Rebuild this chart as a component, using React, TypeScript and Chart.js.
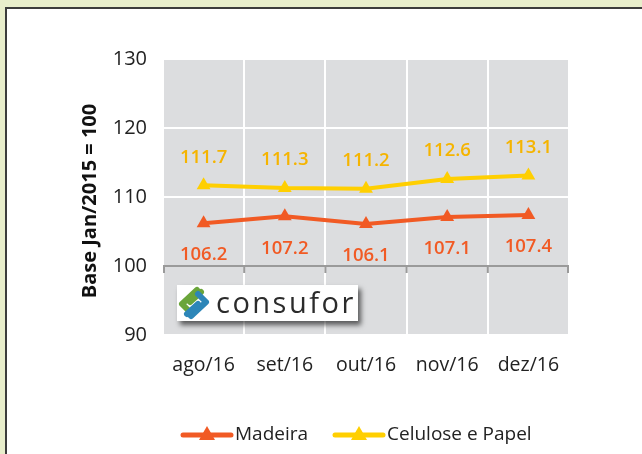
import React, { useEffect, useRef } from "react";
import { Chart, registerables } from "chart.js";

Chart.register(...registerables);

const categories = ["ago/16", "set/16", "out/16", "nov/16", "dez/16"];
const madeira = [106.2, 107.2, 106.1, 107.1, 107.4];
const celulose = [111.7, 111.3, 111.2, 112.6, 113.1];
const seriesNames = ["Madeira", "Celulose e Papel"];
const yTitle = "Base Jan/2015 = 100";
const logoText = "consufor";

const FONT = "'Open Sans', 'DejaVu Sans', sans-serif";
const ORANGE = "#f15a24";
const YELLOW = "#ffcf01";
const YELLOW_LABEL = "#f5b400";

const bgPlugin = {
  id: "bgPlugin",
  beforeDraw(chart: any) {
    const { ctx, chartArea } = chart;
    ctx.save();
    ctx.fillStyle = "#dcdddf";
    ctx.fillRect(chartArea.left, chartArea.top, chartArea.right - chartArea.left, chartArea.bottom - chartArea.top);
    ctx.restore();
  },
};

const yTitlePlugin = {
  id: "yTitlePlugin",
  afterDraw(chart: any) {
    const { ctx, chartArea } = chart;
    ctx.save();
    ctx.translate(90, (chartArea.top + chartArea.bottom) / 2 + 4);
    ctx.rotate(-Math.PI / 2);
    ctx.fillStyle = "#111";
    ctx.font = `bold 20px ${FONT}`;
    ctx.textAlign = "center";
    ctx.textBaseline = "middle";
    ctx.fillText(yTitle, 0, 0);
    ctx.restore();
  },
};

const axis100Plugin = {
  id: "axis100Plugin",
  beforeDatasetsDraw(chart: any) {
    const { ctx, chartArea, scales } = chart;
    const y = scales.y.getPixelForValue(100);
    const x = scales.x;
    ctx.save();
    ctx.strokeStyle = "#9a9a9a";
    ctx.lineWidth = 2;
    ctx.beginPath();
    ctx.moveTo(chartArea.left, y);
    ctx.lineTo(chartArea.right, y);
    const n = categories.length;
    for (let i = 0; i <= n; i++) {
      const px = i === 0 ? chartArea.left + 1 : i === n ? chartArea.right - 1 : (x.getPixelForValue(i - 1) + x.getPixelForValue(i)) / 2;
      ctx.moveTo(px, y);
      ctx.lineTo(px, y + 7);
    }
    ctx.stroke();
    ctx.restore();
  },
};

const labelPlugin = {
  id: "labelPlugin",
  afterDatasetsDraw(chart: any) {
    const { ctx } = chart;
    ctx.save();
    ctx.font = `600 18.5px ${FONT}`;
    ctx.textAlign = "center";
    ctx.textBaseline = "middle";
    chart.data.datasets.forEach((ds: any, di: number) => {
      const meta = chart.getDatasetMeta(di);
      meta.data.forEach((pt: any, i: number) => {
        const v = ds.data[i];
        if (di === 0) {
          ctx.fillStyle = ORANGE;
          ctx.fillText(v.toFixed(1), pt.x, pt.y + 32);
        } else {
          ctx.fillStyle = YELLOW_LABEL;
          ctx.fillText(v.toFixed(1), pt.x, pt.y - 28);
        }
      });
    });
    ctx.restore();
  },
};

const logoPlugin = {
  id: "logoPlugin",
  afterDraw(chart: any) {
    const { ctx } = chart;
    const bx = 177, by = 285, bw = 181, bh = 36;
    ctx.save();
    ctx.shadowColor = "rgba(0,0,0,0.6)";
    ctx.shadowBlur = 5;
    ctx.shadowOffsetX = 3;
    ctx.shadowOffsetY = 4;
    ctx.fillStyle = "#ffffff";
    ctx.fillRect(bx, by, bw, bh);
    ctx.restore();
    ctx.save();
    ctx.beginPath();
    ctx.rect(bx, by, bw, bh);
    ctx.clip();
    // icon
    const cx = bx + 17, cy = by + 18;
    ctx.lineWidth = 6;
    ctx.lineCap = "round";
    ctx.lineJoin = "round";
    ctx.strokeStyle = "#6aa53a";
    ctx.beginPath();
    ctx.moveTo(cx + 3, cy - 13);
    ctx.lineTo(cx - 12, cy + 1);
    ctx.lineTo(cx - 4, cy + 9);
    ctx.stroke();
    ctx.beginPath();
    ctx.moveTo(cx - 4, cy - 1);
    ctx.lineTo(cx + 7, cy - 11);
    ctx.stroke();
    ctx.strokeStyle = "#2d86b8";
    ctx.beginPath();
    ctx.moveTo(cx - 3, cy + 13);
    ctx.lineTo(cx + 12, cy - 1);
    ctx.lineTo(cx + 4, cy - 9);
    ctx.stroke();
    ctx.beginPath();
    ctx.moveTo(cx + 4, cy + 1);
    ctx.lineTo(cx - 7, cy + 11);
    ctx.stroke();
    ctx.fillStyle = "#2b2b2b";
    ctx.font = `500 29px ${FONT}`;
    (ctx as any).letterSpacing = "2.5px";
    ctx.textBaseline = "alphabetic";
    ctx.textAlign = "left";
    ctx.fillText(logoText, 216, 313);
    ctx.restore();
  },
};

const legendPlugin = {
  id: "legendPlugin",
  afterDraw(chart: any) {
    const { ctx } = chart;
    const y = 435;
    const items = [
      { x: 183, color: ORANGE, text: seriesNames[0] },
      { x: 335, color: YELLOW, text: seriesNames[1] },
    ];
    ctx.save();
    items.forEach((it) => {
      ctx.strokeStyle = it.color;
      ctx.lineWidth = 5;
      ctx.lineCap = "round";
      ctx.beginPath();
      ctx.moveTo(it.x, y);
      ctx.lineTo(it.x + 48, y);
      ctx.stroke();
      ctx.fillStyle = it.color;
      const tx = it.x + 24;
      ctx.beginPath();
      ctx.moveTo(tx, y - 9);
      ctx.lineTo(tx + 8, y + 5);
      ctx.lineTo(tx - 8, y + 5);
      ctx.closePath();
      ctx.fill();
      ctx.fillStyle = "#222";
      ctx.font = `19px ${FONT}`;
      ctx.textAlign = "left";
      ctx.textBaseline = "middle";
      ctx.fillText(it.text, it.x + 52, y);
    });
    ctx.restore();
  },
};

export default function App() {
  const ref = useRef<HTMLCanvasElement | null>(null);
  useEffect(() => {
    if (!ref.current) return;
    const chart = new Chart(ref.current, {
      type: "line",
      data: {
        labels: categories,
        datasets: [
          {
            label: seriesNames[0],
            data: madeira,
            borderColor: ORANGE,
            backgroundColor: ORANGE,
            borderWidth: 4,
            pointStyle: "triangle",
            pointRadius: 8,
            pointBorderWidth: 0,
            tension: 0,
          },
          {
            label: seriesNames[1],
            data: celulose,
            borderColor: YELLOW,
            backgroundColor: YELLOW,
            borderWidth: 4,
            pointStyle: "triangle",
            pointRadius: 8,
            pointBorderWidth: 0,
            tension: 0,
          },
        ],
      },
      options: {
        responsive: false,
        animation: false,
        layout: { padding: { left: 0, top: 59, right: 73, bottom: 74 } },
        plugins: { legend: { display: false }, tooltip: { enabled: false } },
        scales: {
          x: {
            offset: true,
            border: { display: false },
            grid: { offset: true, color: "#ffffff", lineWidth: 2, drawTicks: false },
            ticks: { color: "#222", font: { family: FONT, size: 19.5 }, padding: 19 },
            afterFit: (s: any) => { s.height = 45; },
          },
          y: {
            min: 90,
            max: 130,
            border: { display: false },
            grid: {
              color: (c: any) => (c.tick && c.tick.value === 100 ? "rgba(0,0,0,0)" : "#ffffff"),
              lineWidth: 2,
              drawTicks: false,
            },
            ticks: { stepSize: 10, color: "#222", font: { family: FONT, size: 20 }, padding: 16 },
            afterFit: (s: any) => { s.width = 163; },
          },
        },
      },
      plugins: [bgPlugin, axis100Plugin, labelPlugin, logoPlugin, legendPlugin, yTitlePlugin],
    });
    return () => chart.destroy();
  }, []);

  return (
    <div style={{ position: "fixed", left: 0, top: 0, width: 642, height: 454, background: "#e8eecb", overflow: "hidden" }}>
      <div
        style={{
          position: "absolute",
          left: 5,
          top: 7,
          width: 700,
          height: 500,
          background: "#ffffff",
          borderLeft: "2px solid #3c3c3c",
          borderTop: "2px solid #3c3c3c",
        }}
      />
      <canvas ref={ref} width={642} height={454} style={{ position: "absolute", left: 0, top: 0 }} />
    </div>
  );
}
